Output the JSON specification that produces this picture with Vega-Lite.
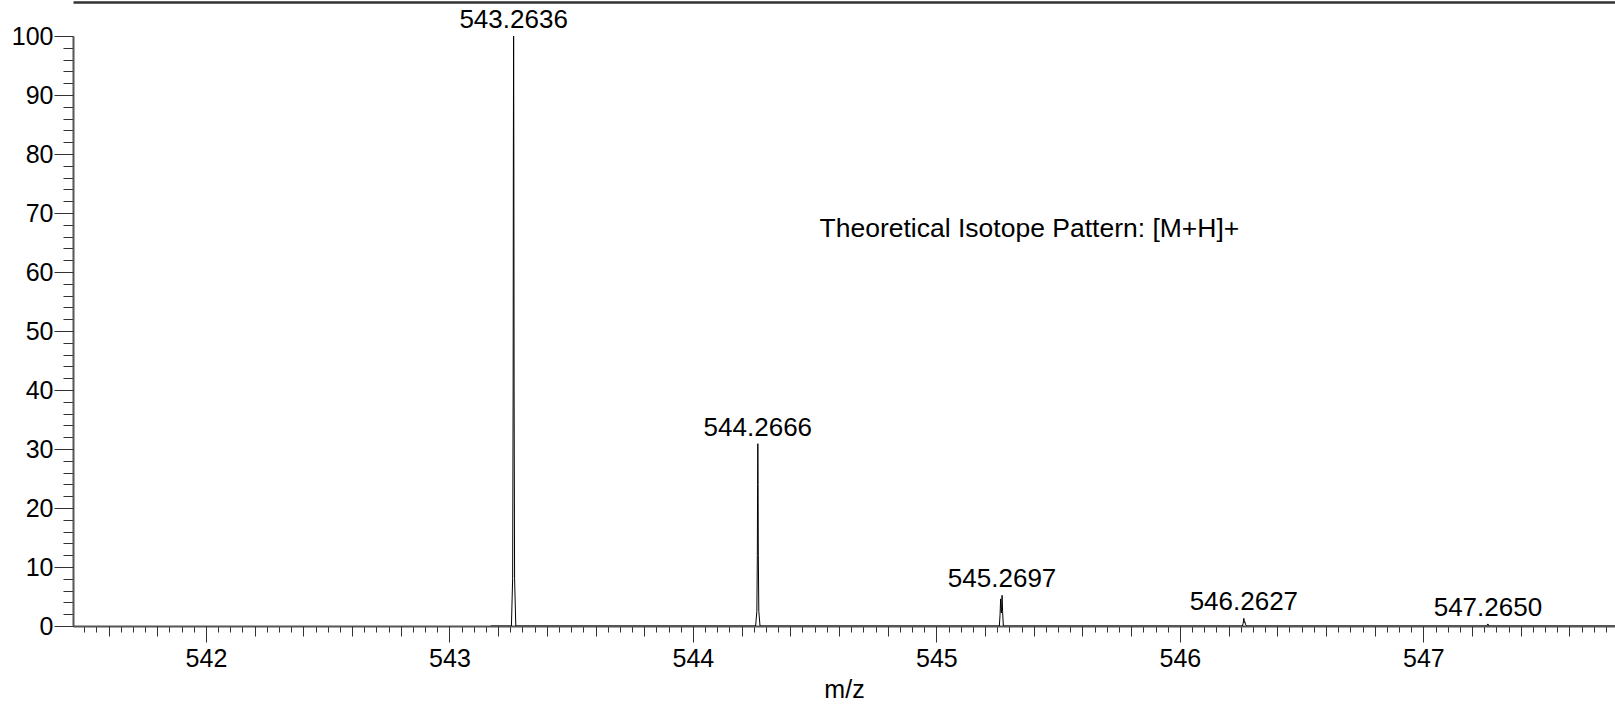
{
  "$schema": "https://vega.github.io/schema/vega-lite/v6.json",
  "autosize": "none",
  "width": 1542,
  "height": 590,
  "padding": {"left": 73, "top": 36, "right": 0, "bottom": 79},
  "background": "white",
  "config": {"font": "Liberation Sans", "view": {"stroke": null}, "axis": {"grid": false, "labelColor": "#000", "titleColor": "#000", "tickColor": "#333", "domainColor": "#555"}},
  "datasets": {
    "spectrum": [
      {"mz": 543.17, "intensity": 0},
      {"mz": 543.2546, "intensity": 0},
      {"mz": 543.2596, "intensity": 8},
      {"mz": 543.2616, "intensity": 40},
      {"mz": 543.2626, "intensity": 80},
      {"mz": 543.2636, "intensity": 100},
      {"mz": 543.2646, "intensity": 80},
      {"mz": 543.2656, "intensity": 40},
      {"mz": 543.2676, "intensity": 8},
      {"mz": 543.2726, "intensity": 0},
      {"mz": 544.2576, "intensity": 0},
      {"mz": 544.2626, "intensity": 2.5},
      {"mz": 544.2646, "intensity": 12},
      {"mz": 544.2656, "intensity": 24},
      {"mz": 544.2666, "intensity": 30.9},
      {"mz": 544.2676, "intensity": 24},
      {"mz": 544.2686, "intensity": 12},
      {"mz": 544.2706, "intensity": 2.5},
      {"mz": 544.2756, "intensity": 0},
      {"mz": 545.2585, "intensity": 0},
      {"mz": 545.2615, "intensity": 2},
      {"mz": 545.2638, "intensity": 4.6},
      {"mz": 545.2660, "intensity": 2.5},
      {"mz": 545.2675, "intensity": 2.2},
      {"mz": 545.2697, "intensity": 5.2},
      {"mz": 545.2718, "intensity": 2.5},
      {"mz": 545.2750, "intensity": 0},
      {"mz": 546.2570, "intensity": 0},
      {"mz": 546.2600, "intensity": 0.5},
      {"mz": 546.2627, "intensity": 1.3},
      {"mz": 546.2650, "intensity": 0.6},
      {"mz": 546.2670, "intensity": 0.7},
      {"mz": 546.2700, "intensity": 0.2},
      {"mz": 546.2740, "intensity": 0},
      {"mz": 547.2600, "intensity": 0},
      {"mz": 547.2650, "intensity": 0.35},
      {"mz": 547.2700, "intensity": 0},
      {"mz": 547.85, "intensity": 0}
    ],
    "peaks": [
      {"mz": 543.2636, "h": 100, "label": "543.2636"},
      {"mz": 544.2666, "h": 30.9, "label": "544.2666"},
      {"mz": 545.2697, "h": 5.2, "label": "545.2697"},
      {"mz": 546.2627, "h": 1.3, "label": "546.2627"},
      {"mz": 547.2650, "h": 0.35, "label": "547.2650"}
    ],
    "note": [
      {"mz": 544.52, "y": 67.3, "text": "Theoretical Isotope Pattern: [M+H]+"}
    ]
  },
  "layer": [
    {
      "data": {"name": "spectrum"},
      "mark": {"type": "line", "color": "#000", "strokeWidth": 1, "clip": true, "interpolate": "linear"},
      "encoding": {
        "x": {"field": "mz", "type": "quantitative",
          "scale": {"domain": [541.454, 547.787], "nice": false, "zero": false},
          "axis": {"orient": "bottom", "title": null, "labels": false, "tickSize": 6, "domain": true, "domainWidth": 2,
            "values": [541.45,541.5,541.55,541.6,541.65,541.7,541.75,541.8,541.85,541.9,541.95,542,542.05,542.1,542.15,542.2,542.25,542.3,542.35,542.4,542.45,542.5,542.55,542.6,542.65,542.7,542.75,542.8,542.85,542.9,542.95,543,543.05,543.1,543.15,543.2,543.25,543.3,543.35,543.4,543.45,543.5,543.55,543.6,543.65,543.7,543.75,543.8,543.85,543.9,543.95,544,544.05,544.1,544.15,544.2,544.25,544.3,544.35,544.4,544.45,544.5,544.55,544.6,544.65,544.7,544.75,544.8,544.85,544.9,544.95,545,545.05,545.1,545.15,545.2,545.25,545.3,545.35,545.4,545.45,545.5,545.55,545.6,545.65,545.7,545.75,545.8,545.85,545.9,545.95,546,546.05,546.1,546.15,546.2,546.25,546.3,546.35,546.4,546.45,546.5,546.55,546.6,546.65,546.7,546.75,546.8,546.85,546.9,546.95,547,547.05,547.1,547.15,547.2,547.25,547.3,547.35,547.4,547.45,547.5,547.55,547.6,547.65,547.7,547.75]}},
        "y": {"field": "intensity", "type": "quantitative",
          "scale": {"domain": [0, 100], "nice": false},
          "axis": {"orient": "left", "title": null, "labels": false, "tickSize": 10, "domain": true, "domainWidth": 2,
            "values": [0,2,4,6,8,10,12,14,16,18,20,22,24,26,28,30,32,34,36,38,40,42,44,46,48,50,52,54,56,58,60,62,64,66,68,70,72,74,76,78,80,82,84,86,88,90,92,94,96,98,100]}}
      }
    },
    {
      "data": {"name": "peaks"},
      "mark": {"type": "text", "baseline": "alphabetic", "align": "center", "dy": -8, "fontSize": 26, "color": "#000"},
      "encoding": {
        "x": {"field": "mz", "type": "quantitative",
          "axis": {"orient": "bottom", "title": null, "labels": false, "tickSize": 10, "domain": false,
            "values": [541.6,541.8,542,542.2,542.4,542.6,542.8,543,543.2,543.4,543.6,543.8,544,544.2,544.4,544.6,544.8,545,545.2,545.4,545.6,545.8,546,546.2,546.4,546.6,546.8,547,547.2,547.4,547.6]}},
        "y": {"field": "h", "type": "quantitative",
          "axis": {"orient": "left", "title": null, "tickSize": 19, "domain": false, "labelFontSize": 25, "labelPadding": 1, "format": "d",
            "values": [0,10,20,30,40,50,60,70,80,90,100]}},
        "text": {"field": "label", "type": "nominal"}
      }
    },
    {
      "data": {"name": "note"},
      "mark": {"type": "text", "align": "left", "baseline": "middle", "fontSize": 26.5, "color": "#000"},
      "encoding": {
        "x": {"field": "mz", "type": "quantitative",
          "axis": {"orient": "bottom", "title": "m/z", "titleFontSize": 25, "titleFontWeight": "normal", "titlePadding": 6,
            "tickSize": 16, "domain": false, "labelFontSize": 25, "labelPadding": 4, "format": "d",
            "values": [542, 543, 544, 545, 546, 547]}},
        "y": {"field": "y", "type": "quantitative", "axis": null},
        "text": {"field": "text", "type": "nominal"}
      }
    },
    {
      "data": {"name": "note"},
      "mark": {"type": "text", "opacity": 0},
      "encoding": {
        "x": {"field": "mz", "type": "quantitative",
          "axis": {"orient": "top", "offset": 34, "title": null, "labels": false, "ticks": false, "domain": true, "domainWidth": 2.5, "domainColor": "#333"}},
        "y": {"field": "y", "type": "quantitative", "axis": null},
        "text": {"field": "text", "type": "nominal"}
      }
    }
  ],
  "resolve": {"axis": {"x": "independent", "y": "independent"}}
}
